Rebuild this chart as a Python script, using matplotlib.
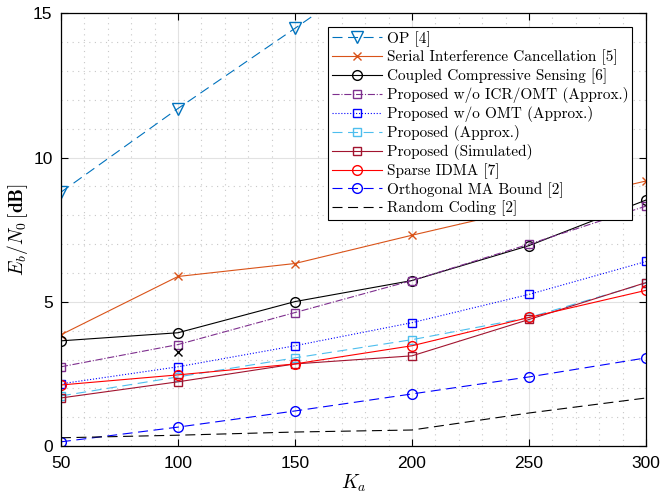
import matplotlib.pyplot as plt
import numpy as np
from matplotlib.ticker import MultipleLocator

Ka = [50, 100, 150, 200, 250, 300]

op = [8.8, 11.7, 14.48, 17.3, 20.1, 22.9]
sic = [3.86, 5.88, 6.33, 7.31, 8.25, 9.19]
ccs = [3.65, 3.93, 5.01, 5.74, 6.95, 8.53]
no_icr_omt = [2.75, 3.52, 4.63, 5.74, 7.0, 8.32]
no_omt = [2.16, 2.75, 3.48, 4.28, 5.26, 6.40]
prop_approx = [1.74, 2.4, 3.06, 3.69, 4.46, 5.65]
prop_sim = [1.67, 2.23, 2.85, 3.13, 4.39, 5.67]
idma = [2.12, 2.47, 2.85, 3.48, 4.46, 5.4]
orth = [0.15, 0.66, 1.22, 1.81, 2.4, 3.06]
rand_coding = [0.29, 0.38, 0.49, 0.56, 1.15, 1.67]

# lone marker at Ka=100
extra_x = [100]
extra_y = [3.27]

plt.rcParams['mathtext.fontset'] = 'cm'
plt.rcParams['font.family'] = ['Liberation Sans', 'DejaVu Sans']

fig = plt.figure(figsize=(6.62, 4.93), dpi=100)
ax = fig.add_axes([0.092, 0.095, 0.884, 0.878])

lw = 0.8
dash = (9, 5)
ax.plot(Ka, op, '--', color='#0072BD', marker='v', ms=9, mfc='none', lw=lw, dashes=dash, label='OP [4]')
ax.plot(Ka, sic, '-', color='#D95319', marker='x', ms=6, lw=lw, label='Serial Interference Cancellation [5]')
ax.plot(Ka, ccs, '-', color='k', marker='o', ms=7, mfc='none', lw=lw, label='Coupled Compressive Sensing [6]')
ax.plot(Ka, no_icr_omt, '-.', color='#7E2F8E', marker='s', ms=5.5, mfc='none', lw=lw, label='Proposed w/o ICR/OMT (Approx.)')
ax.plot(Ka, no_omt, ':', color='b', marker='s', ms=5.5, mfc='none', lw=lw, label='Proposed w/o OMT (Approx.)')
ax.plot(Ka, prop_approx, '--', color='#4DBEEE', marker='s', ms=5.5, mfc='none', lw=lw, dashes=dash, label='Proposed (Approx.)')
ax.plot(Ka, prop_sim, '-', color='#A2142F', marker='s', ms=5.5, mfc='none', lw=lw, label='Proposed (Simulated)')
ax.plot(Ka, idma, '-', color='r', marker='o', ms=7, mfc='none', lw=lw, label='Sparse IDMA [7]')
ax.plot(Ka, orth, '--', color='b', marker='o', ms=7, mfc='none', lw=lw, dashes=dash, label='Orthogonal MA Bound [2]')
ax.plot(Ka, rand_coding, '--', color='k', lw=lw, dashes=dash, label='Random Coding [2]')
ax.plot(extra_x, extra_y, 'x', color='k', ms=6, label='_nolegend_')

ax.set_xlim(50, 300)
ax.set_ylim(0, 15)
ax.set_xticks(Ka)
ax.set_yticks([0, 5, 10, 15])
ax.xaxis.set_minor_locator(MultipleLocator(10))
ax.yaxis.set_minor_locator(MultipleLocator(1))
ax.grid(True, which='major', color='#e2e2e2', lw=0.8)
ax.grid(True, which='minor', color='#c8c8c8', ls=(0, (1, 4)), lw=0.8)
ax.set_axisbelow(True)
ax.tick_params(which='both', direction='in', top=True, right=True, labelsize=12.5)
ax.tick_params(which='minor', length=0)
ax.tick_params(which='major', length=5)
ax.tick_params(axis='x', pad=7)
ax.tick_params(axis='y', pad=6)
for s in ax.spines.values():
    s.set_linewidth(0.9)

ax.set_xlabel(r'$K_a$', fontsize=14, labelpad=1)
ax.set_ylabel(r'$E_b/N_0\,[\mathbf{dB}]$', fontsize=14, labelpad=2)

leg = ax.legend(loc='upper right', bbox_to_anchor=(0.976, 0.968), prop={'family': 'cmr10', 'size': 11},
                fancybox=False, edgecolor='k', framealpha=1, borderaxespad=0, handlelength=3.3,
                labelspacing=0.2, borderpad=0.25, handletextpad=0.3)
leg.get_frame().set_linewidth(0.8)

fig.savefig('out.png', dpi=100)
